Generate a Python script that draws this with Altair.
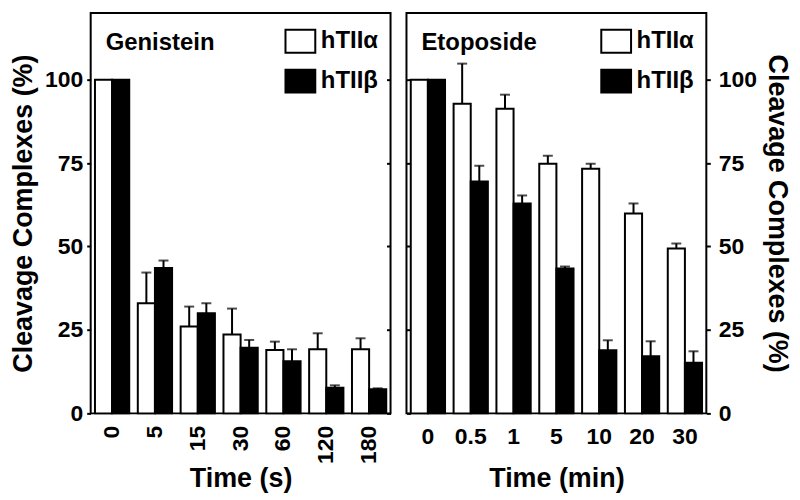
import altair as alt
import pandas as pd

SERIES = ["hTIIα", "hTIIβ"]

GEN_TIMES = ["0", "5", "15", "30", "60", "120", "180"]
GEN_ALPHA = [100, 33.0, 26.0, 23.6, 19.0, 19.2, 19.2]
GEN_ALPHA_ERR = [0, 9.2, 6.0, 7.8, 2.5, 4.8, 3.3]
GEN_BETA = [100, 43.6, 30.0, 19.7, 15.6, 7.7, 7.2]
GEN_BETA_ERR = [0, 2.2, 3.0, 2.3, 3.6, 0.7, 0.3]

ETO_TIMES = ["0", "0.5", "1", "5", "10", "20", "30"]
ETO_ALPHA = [100, 92.8, 91.3, 74.8, 73.3, 59.9, 49.4]
ETO_ALPHA_ERR = [0, 12.0, 4.2, 2.4, 1.5, 3.0, 1.5]
ETO_BETA = [100, 69.5, 62.9, 43.4, 18.9, 17.1, 15.2]
ETO_BETA_ERR = [0, 4.7, 2.4, 0.6, 3.0, 4.5, 3.4]

FONT = "Liberation Sans"
Y_TICKS = [0, 25, 50, 75, 100]


def make_df(times, a, ae, b, be):
    rows = []
    for i, t in enumerate(times):
        rows.append({"time": t, "series": SERIES[0], "value": a[i], "upper": a[i] + ae[i], "err": ae[i]})
        rows.append({"time": t, "series": SERIES[1], "value": b[i], "upper": b[i] + be[i], "err": be[i]})
    return pd.DataFrame(rows)


def panel(df, times, name, xtitle, label_angle, yorient):
    yscale = alt.Scale(domain=[0, 120], nice=False)
    x = alt.X("time:N", sort=times, title=xtitle,
              scale=alt.Scale(paddingInner=0.2, paddingOuter=0.1),
              axis=alt.Axis(labelAngle=label_angle, ticks=False, domain=False,
                            labelPadding=12, titleY=73, titleBaseline="alphabetic",
                            labelAlign="right" if label_angle != 0 else "center",
                            labelBaseline="middle" if label_angle != 0 else "top"))
    xo = alt.XOffset("series:N", sort=SERIES, scale=alt.Scale(paddingInner=0, paddingOuter=0))
    other = "right" if yorient == "left" else "left"
    main_axis = alt.Axis(orient=yorient, values=Y_TICKS, grid=False, domain=False,
                         tickSize=4, tickWidth=2, tickColor="black", labelPadding=4 if yorient == "left" else 8,
                         titlePadding=7 if yorient == "left" else 6,
                         title="Cleavage Complexes (%)")
    inner_axis = alt.Axis(orient=other, values=Y_TICKS, grid=False, domain=False, labels=False,
                          tickSize=4, tickWidth=2, tickColor="black", offset=-4, title=None)

    bars = alt.Chart(df).mark_bar(stroke="black", strokeWidth=2).encode(
        x=x, xOffset=xo,
        y=alt.Y("value:Q", scale=yscale, axis=main_axis),
        fill=alt.Fill("series:N", scale=alt.Scale(domain=SERIES, range=["white", "black"]),
                      legend=alt.Legend(title=None)),
    )
    errdf = df[df["err"] > 0]
    rules = alt.Chart(errdf).mark_rule(color="black", strokeWidth=2).encode(
        x=x, xOffset=xo,
        y=alt.Y("value:Q", scale=yscale, axis=None),
        y2="upper:Q",
    )
    caps = alt.Chart(errdf).mark_tick(color="black", size=10, thickness=2).encode(
        x=x, xOffset=xo,
        y=alt.Y("upper:Q", scale=yscale, axis=inner_axis),
    )
    label = alt.Chart(pd.DataFrame({"name": [name]})).mark_text(
        align="left", baseline="alphabetic", font=FONT, fontSize=24, fontWeight="bold", color="black"
    ).encode(text="name:N", x=alt.value(15), y=alt.value(37))
    return alt.layer(bars, rules, caps, label).resolve_scale(y="independent").properties(
        width=301, height=402)


gen = panel(make_df(GEN_TIMES, GEN_ALPHA, GEN_ALPHA_ERR, GEN_BETA, GEN_BETA_ERR),
            GEN_TIMES, "Genistein", "Time (s)", -90, "left")
eto = panel(make_df(ETO_TIMES, ETO_ALPHA, ETO_ALPHA_ERR, ETO_BETA, ETO_BETA_ERR),
            ETO_TIMES, "Etoposide", "Time (min)", 0, "right")

chart = alt.hconcat(gen, eto, spacing=12).resolve_scale(
    x="independent", fill="independent"
).resolve_legend(fill="independent").properties(
    padding={"left": 0, "top": 3, "right": 0, "bottom": 0}
).configure_view(
    stroke="black", strokeWidth=2
).configure_axis(
    labelFont=FONT, labelFontSize=23, labelFontWeight="bold", labelColor="black",
    titleFont=FONT, titleFontSize=27, titleFontWeight="bold", titleColor="black",
).configure_legend(
    orient="none", legendX=198, legendY=16, padding=0,
    symbolType="M-1.3,-1H1.3V1H-1.3Z", symbolSize=529,
    symbolStrokeColor="black", symbolStrokeWidth=2,
    labelFont=FONT, labelFontSize=24, labelFontWeight="bold", labelColor="black",
    labelOffset=8, rowPadding=9,
)

chart.save("out.html", embed_options={"renderer": "svg", "actions": False})
